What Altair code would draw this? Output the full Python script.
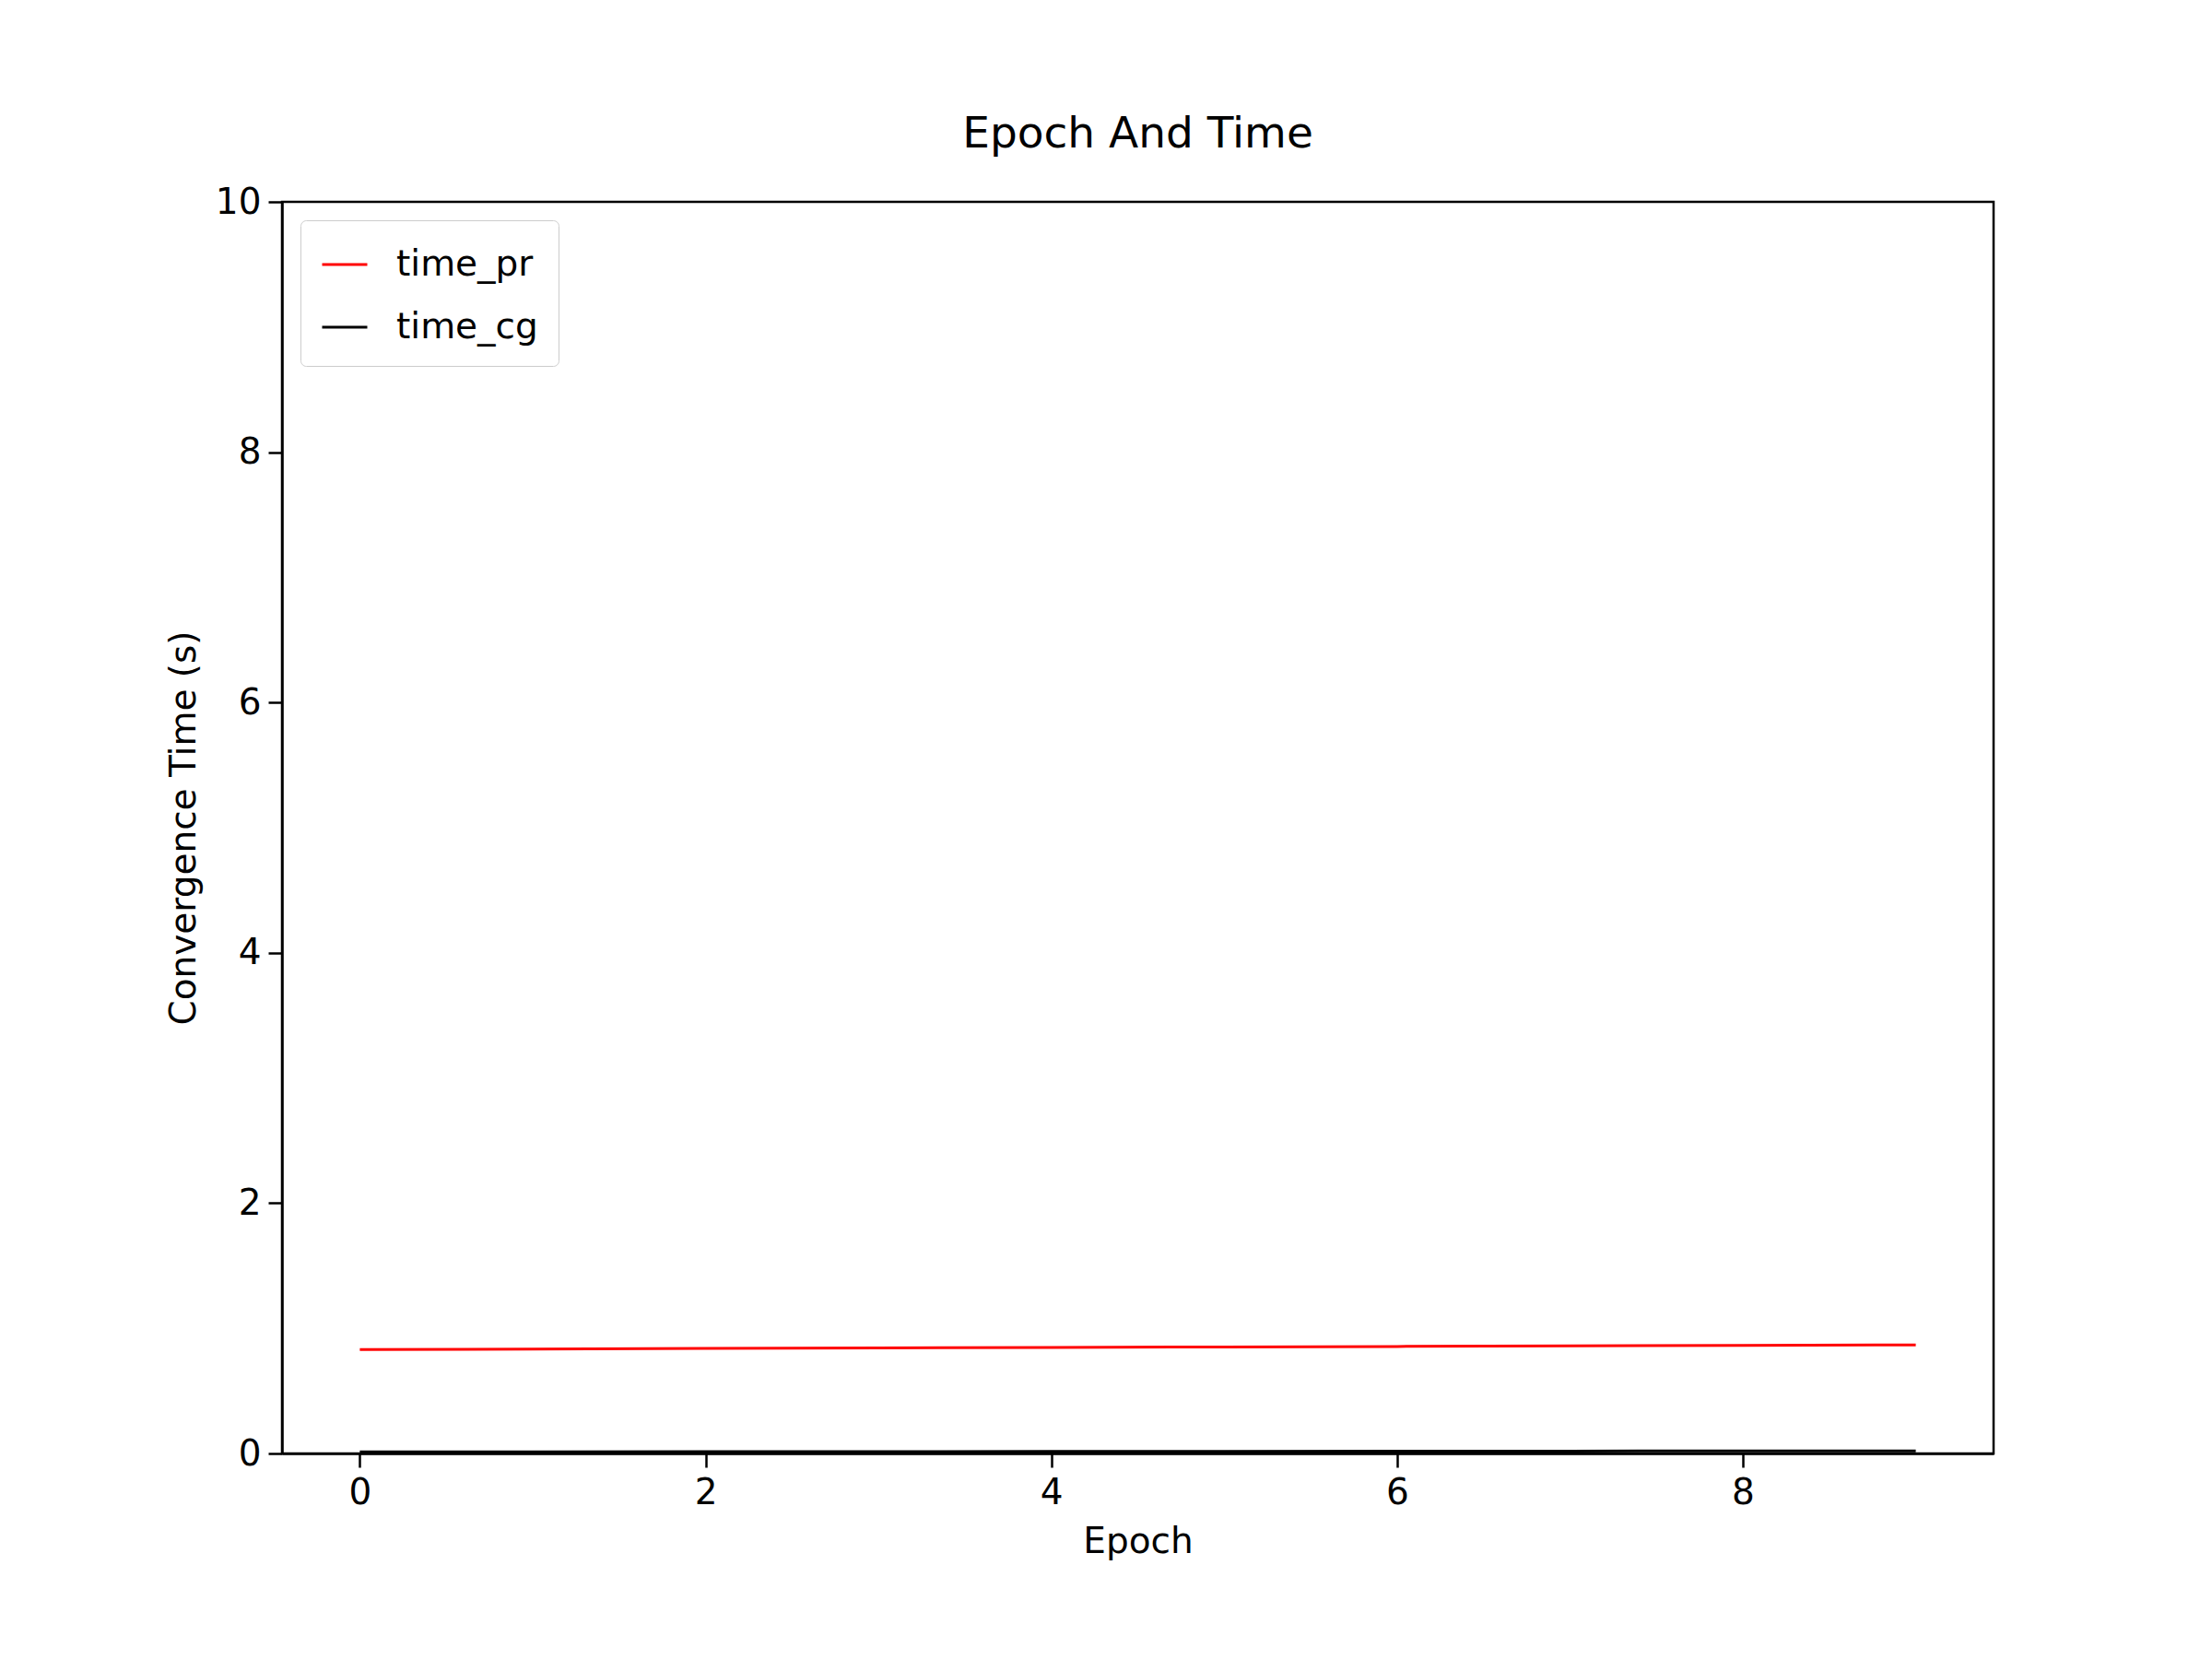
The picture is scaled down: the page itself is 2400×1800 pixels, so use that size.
import altair as alt
import pandas as pd

epochs = [0, 1, 2, 3, 4, 5, 6, 7, 8, 9]
time_pr = [0.830, 0.834, 0.839, 0.843, 0.847, 0.851, 0.855, 0.859, 0.864, 0.868]
time_cg = [0.012, 0.013, 0.014, 0.015, 0.016, 0.017, 0.018, 0.019, 0.020, 0.021]

df = pd.concat([
    pd.DataFrame({"Epoch": epochs, "time": time_pr, "series": "time_pr"}),
    pd.DataFrame({"Epoch": epochs, "time": time_cg, "series": "time_cg"}),
])

font = "DejaVu Sans"

chart = alt.Chart(df).mark_line(strokeWidth=3).encode(
    x=alt.X("Epoch:Q", scale=alt.Scale(domain=[-0.45, 9.45], nice=False, zero=False),
            axis=alt.Axis(values=[0, 2, 4, 6, 8], title="Epoch")),
    y=alt.Y("time:Q", scale=alt.Scale(domain=[0, 10], nice=False),
            axis=alt.Axis(values=[0, 2, 4, 6, 8, 10], title="Convergence Time (s)")),
    color=alt.Color("series:N", sort=["time_pr", "time_cg"],
                    scale=alt.Scale(domain=["time_pr", "time_cg"], range=["#ff0000", "#000000"]),
                    legend=alt.Legend(title=None, orient="top-left", symbolType="stroke",
                                      symbolStrokeWidth=3, symbolSize=2400,
                                      labelFontSize=39, labelFont=font, rowPadding=22,
                                      labelOffset=30, labelLimit=400,
                                      padding=22, offset=20, strokeColor="#cccccc",
                                      fillColor="white", cornerRadius=6)),
).properties(
    width=1857, height=1358,
    title=alt.TitleParams("Epoch And Time", fontSize=47, font=font, fontWeight="normal", offset=30),
    autosize=alt.AutoSizeParams(type="none"),
    padding={"left": 298, "top": 211, "right": 200, "bottom": 195},
).configure_view(stroke="black", strokeWidth=2.5).configure_axis(
    grid=False, domainColor="black", domainWidth=2.5, tickColor="black", tickWidth=2.5,
    tickSize=15, labelFontSize=39, titleFontSize=39, labelFont=font, titleFont=font,
    labelColor="black", titleColor="black", titleFontWeight="normal", labelPadding=8,
    titlePadding=14,
)

chart.save("out.html", embed_options={"renderer": "svg", "actions": False})
